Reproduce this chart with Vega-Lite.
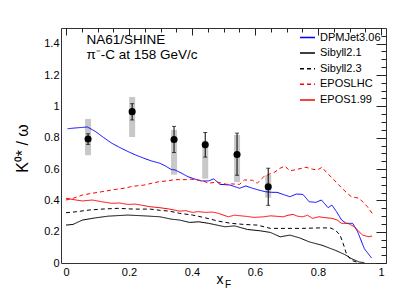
{
  "$schema": "https://vega.github.io/schema/vega-lite/v6.json",
  "width": 325,
  "height": 235,
  "autosize": {"type": "none"},
  "padding": {"left": 61, "top": 28, "right": 21, "bottom": 29},
  "background": "white",
  "config": {
    "font": "Liberation Sans",
    "view": {"stroke": "#333", "strokeWidth": 1},
    "axis": {"grid": false, "domain": false}
  },
  "datasets": {
    "curves": [
      {"model": "DPMJet3.06", "xf": 0.005, "r": 0.857},
      {"model": "DPMJet3.06", "xf": 0.03, "r": 0.862},
      {"model": "DPMJet3.06", "xf": 0.068, "r": 0.868},
      {"model": "DPMJet3.06", "xf": 0.093, "r": 0.84},
      {"model": "DPMJet3.06", "xf": 0.12, "r": 0.8},
      {"model": "DPMJet3.06", "xf": 0.145, "r": 0.765},
      {"model": "DPMJet3.06", "xf": 0.17, "r": 0.738},
      {"model": "DPMJet3.06", "xf": 0.196, "r": 0.712},
      {"model": "DPMJet3.06", "xf": 0.22, "r": 0.69},
      {"model": "DPMJet3.06", "xf": 0.247, "r": 0.669},
      {"model": "DPMJet3.06", "xf": 0.27, "r": 0.652},
      {"model": "DPMJet3.06", "xf": 0.298, "r": 0.637},
      {"model": "DPMJet3.06", "xf": 0.315, "r": 0.62},
      {"model": "DPMJet3.06", "xf": 0.334, "r": 0.597},
      {"model": "DPMJet3.06", "xf": 0.346, "r": 0.594},
      {"model": "DPMJet3.06", "xf": 0.365, "r": 0.575},
      {"model": "DPMJet3.06", "xf": 0.387, "r": 0.551},
      {"model": "DPMJet3.06", "xf": 0.41, "r": 0.535},
      {"model": "DPMJet3.06", "xf": 0.428, "r": 0.524},
      {"model": "DPMJet3.06", "xf": 0.453, "r": 0.524},
      {"model": "DPMJet3.06", "xf": 0.469, "r": 0.537},
      {"model": "DPMJet3.06", "xf": 0.489, "r": 0.502},
      {"model": "DPMJet3.06", "xf": 0.52, "r": 0.498},
      {"model": "DPMJet3.06", "xf": 0.551, "r": 0.477},
      {"model": "DPMJet3.06", "xf": 0.571, "r": 0.492},
      {"model": "DPMJet3.06", "xf": 0.592, "r": 0.477},
      {"model": "DPMJet3.06", "xf": 0.613, "r": 0.465},
      {"model": "DPMJet3.06", "xf": 0.633, "r": 0.455},
      {"model": "DPMJet3.06", "xf": 0.653, "r": 0.451},
      {"model": "DPMJet3.06", "xf": 0.67, "r": 0.451},
      {"model": "DPMJet3.06", "xf": 0.69, "r": 0.437},
      {"model": "DPMJet3.06", "xf": 0.711, "r": 0.423},
      {"model": "DPMJet3.06", "xf": 0.731, "r": 0.44},
      {"model": "DPMJet3.06", "xf": 0.752, "r": 0.438},
      {"model": "DPMJet3.06", "xf": 0.772, "r": 0.391},
      {"model": "DPMJet3.06", "xf": 0.793, "r": 0.387},
      {"model": "DPMJet3.06", "xf": 0.811, "r": 0.402},
      {"model": "DPMJet3.06", "xf": 0.832, "r": 0.353},
      {"model": "DPMJet3.06", "xf": 0.844, "r": 0.37},
      {"model": "DPMJet3.06", "xf": 0.859, "r": 0.327},
      {"model": "DPMJet3.06", "xf": 0.875, "r": 0.274},
      {"model": "DPMJet3.06", "xf": 0.89, "r": 0.253},
      {"model": "DPMJet3.06", "xf": 0.91, "r": 0.253},
      {"model": "DPMJet3.06", "xf": 0.926, "r": 0.199},
      {"model": "DPMJet3.06", "xf": 0.947, "r": 0.092},
      {"model": "DPMJet3.06", "xf": 0.97, "r": 0.032},

      {"model": "Sibyll2.1", "xf": 0.0, "r": 0.242},
      {"model": "Sibyll2.1", "xf": 0.022, "r": 0.246},
      {"model": "Sibyll2.1", "xf": 0.052, "r": 0.274},
      {"model": "Sibyll2.1", "xf": 0.093, "r": 0.288},
      {"model": "Sibyll2.1", "xf": 0.134, "r": 0.299},
      {"model": "Sibyll2.1", "xf": 0.196, "r": 0.306},
      {"model": "Sibyll2.1", "xf": 0.247, "r": 0.301},
      {"model": "Sibyll2.1", "xf": 0.298, "r": 0.295},
      {"model": "Sibyll2.1", "xf": 0.334, "r": 0.28},
      {"model": "Sibyll2.1", "xf": 0.361, "r": 0.274},
      {"model": "Sibyll2.1", "xf": 0.392, "r": 0.259},
      {"model": "Sibyll2.1", "xf": 0.422, "r": 0.263},
      {"model": "Sibyll2.1", "xf": 0.453, "r": 0.253},
      {"model": "Sibyll2.1", "xf": 0.505, "r": 0.231},
      {"model": "Sibyll2.1", "xf": 0.535, "r": 0.237},
      {"model": "Sibyll2.1", "xf": 0.576, "r": 0.214},
      {"model": "Sibyll2.1", "xf": 0.618, "r": 0.205},
      {"model": "Sibyll2.1", "xf": 0.649, "r": 0.195},
      {"model": "Sibyll2.1", "xf": 0.68, "r": 0.167},
      {"model": "Sibyll2.1", "xf": 0.711, "r": 0.178},
      {"model": "Sibyll2.1", "xf": 0.742, "r": 0.16},
      {"model": "Sibyll2.1", "xf": 0.772, "r": 0.135},
      {"model": "Sibyll2.1", "xf": 0.813, "r": 0.113},
      {"model": "Sibyll2.1", "xf": 0.855, "r": 0.081},
      {"model": "Sibyll2.1", "xf": 0.885, "r": 0.054},
      {"model": "Sibyll2.1", "xf": 0.906, "r": 0.028},
      {"model": "Sibyll2.1", "xf": 0.931, "r": 0.006},
      {"model": "Sibyll2.1", "xf": 0.947, "r": 0.003},

      {"model": "Sibyll2.3", "xf": 0.0, "r": 0.321},
      {"model": "Sibyll2.3", "xf": 0.032, "r": 0.327},
      {"model": "Sibyll2.3", "xf": 0.073, "r": 0.338},
      {"model": "Sibyll2.3", "xf": 0.114, "r": 0.344},
      {"model": "Sibyll2.3", "xf": 0.165, "r": 0.349},
      {"model": "Sibyll2.3", "xf": 0.216, "r": 0.344},
      {"model": "Sibyll2.3", "xf": 0.268, "r": 0.344},
      {"model": "Sibyll2.3", "xf": 0.3, "r": 0.336},
      {"model": "Sibyll2.3", "xf": 0.329, "r": 0.331},
      {"model": "Sibyll2.3", "xf": 0.361, "r": 0.317},
      {"model": "Sibyll2.3", "xf": 0.402, "r": 0.306},
      {"model": "Sibyll2.3", "xf": 0.443, "r": 0.288},
      {"model": "Sibyll2.3", "xf": 0.484, "r": 0.267},
      {"model": "Sibyll2.3", "xf": 0.525, "r": 0.253},
      {"model": "Sibyll2.3", "xf": 0.566, "r": 0.246},
      {"model": "Sibyll2.3", "xf": 0.607, "r": 0.242},
      {"model": "Sibyll2.3", "xf": 0.649, "r": 0.221},
      {"model": "Sibyll2.3", "xf": 0.701, "r": 0.221},
      {"model": "Sibyll2.3", "xf": 0.752, "r": 0.221},
      {"model": "Sibyll2.3", "xf": 0.803, "r": 0.224},
      {"model": "Sibyll2.3", "xf": 0.839, "r": 0.224},
      {"model": "Sibyll2.3", "xf": 0.855, "r": 0.21},
      {"model": "Sibyll2.3", "xf": 0.87, "r": 0.178},
      {"model": "Sibyll2.3", "xf": 0.88, "r": 0.124},
      {"model": "Sibyll2.3", "xf": 0.89, "r": 0.06},
      {"model": "Sibyll2.3", "xf": 0.906, "r": 0.017},
      {"model": "Sibyll2.3", "xf": 0.926, "r": 0.004},

      {"model": "EPOSLHC", "xf": 0.0, "r": 0.402},
      {"model": "EPOSLHC", "xf": 0.026, "r": 0.415},
      {"model": "EPOSLHC", "xf": 0.052, "r": 0.434},
      {"model": "EPOSLHC", "xf": 0.083, "r": 0.445},
      {"model": "EPOSLHC", "xf": 0.114, "r": 0.455},
      {"model": "EPOSLHC", "xf": 0.14, "r": 0.464},
      {"model": "EPOSLHC", "xf": 0.165, "r": 0.472},
      {"model": "EPOSLHC", "xf": 0.186, "r": 0.478},
      {"model": "EPOSLHC", "xf": 0.206, "r": 0.487},
      {"model": "EPOSLHC", "xf": 0.226, "r": 0.493},
      {"model": "EPOSLHC", "xf": 0.247, "r": 0.497},
      {"model": "EPOSLHC", "xf": 0.27, "r": 0.508},
      {"model": "EPOSLHC", "xf": 0.295, "r": 0.519},
      {"model": "EPOSLHC", "xf": 0.32, "r": 0.524},
      {"model": "EPOSLHC", "xf": 0.346, "r": 0.532},
      {"model": "EPOSLHC", "xf": 0.382, "r": 0.532},
      {"model": "EPOSLHC", "xf": 0.397, "r": 0.535},
      {"model": "EPOSLHC", "xf": 0.433, "r": 0.526},
      {"model": "EPOSLHC", "xf": 0.453, "r": 0.509},
      {"model": "EPOSLHC", "xf": 0.479, "r": 0.517},
      {"model": "EPOSLHC", "xf": 0.51, "r": 0.502},
      {"model": "EPOSLHC", "xf": 0.525, "r": 0.505},
      {"model": "EPOSLHC", "xf": 0.551, "r": 0.502},
      {"model": "EPOSLHC", "xf": 0.566, "r": 0.53},
      {"model": "EPOSLHC", "xf": 0.592, "r": 0.528},
      {"model": "EPOSLHC", "xf": 0.607, "r": 0.509},
      {"model": "EPOSLHC", "xf": 0.628, "r": 0.551},
      {"model": "EPOSLHC", "xf": 0.645, "r": 0.567},
      {"model": "EPOSLHC", "xf": 0.66, "r": 0.577},
      {"model": "EPOSLHC", "xf": 0.68, "r": 0.605},
      {"model": "EPOSLHC", "xf": 0.695, "r": 0.618},
      {"model": "EPOSLHC", "xf": 0.711, "r": 0.588},
      {"model": "EPOSLHC", "xf": 0.736, "r": 0.599},
      {"model": "EPOSLHC", "xf": 0.762, "r": 0.611},
      {"model": "EPOSLHC", "xf": 0.782, "r": 0.599},
      {"model": "EPOSLHC", "xf": 0.798, "r": 0.594},
      {"model": "EPOSLHC", "xf": 0.813, "r": 0.611},
      {"model": "EPOSLHC", "xf": 0.829, "r": 0.573},
      {"model": "EPOSLHC", "xf": 0.844, "r": 0.545},
      {"model": "EPOSLHC", "xf": 0.859, "r": 0.513},
      {"model": "EPOSLHC", "xf": 0.875, "r": 0.48},
      {"model": "EPOSLHC", "xf": 0.89, "r": 0.45},
      {"model": "EPOSLHC", "xf": 0.906, "r": 0.423},
      {"model": "EPOSLHC", "xf": 0.931, "r": 0.413},
      {"model": "EPOSLHC", "xf": 0.957, "r": 0.359},
      {"model": "EPOSLHC", "xf": 0.972, "r": 0.317},

      {"model": "EPOS1.99", "xf": 0.0, "r": 0.413},
      {"model": "EPOS1.99", "xf": 0.032, "r": 0.402},
      {"model": "EPOS1.99", "xf": 0.052, "r": 0.396},
      {"model": "EPOS1.99", "xf": 0.083, "r": 0.402},
      {"model": "EPOS1.99", "xf": 0.114, "r": 0.391},
      {"model": "EPOS1.99", "xf": 0.145, "r": 0.381},
      {"model": "EPOS1.99", "xf": 0.17, "r": 0.383},
      {"model": "EPOS1.99", "xf": 0.196, "r": 0.374},
      {"model": "EPOS1.99", "xf": 0.22, "r": 0.376},
      {"model": "EPOS1.99", "xf": 0.237, "r": 0.37},
      {"model": "EPOS1.99", "xf": 0.268, "r": 0.359},
      {"model": "EPOS1.99", "xf": 0.298, "r": 0.353},
      {"model": "EPOS1.99", "xf": 0.329, "r": 0.344},
      {"model": "EPOS1.99", "xf": 0.361, "r": 0.331},
      {"model": "EPOS1.99", "xf": 0.38, "r": 0.334},
      {"model": "EPOS1.99", "xf": 0.402, "r": 0.323},
      {"model": "EPOS1.99", "xf": 0.42, "r": 0.328},
      {"model": "EPOS1.99", "xf": 0.443, "r": 0.323},
      {"model": "EPOS1.99", "xf": 0.465, "r": 0.325},
      {"model": "EPOS1.99", "xf": 0.484, "r": 0.317},
      {"model": "EPOS1.99", "xf": 0.515, "r": 0.295},
      {"model": "EPOS1.99", "xf": 0.535, "r": 0.305},
      {"model": "EPOS1.99", "xf": 0.556, "r": 0.301},
      {"model": "EPOS1.99", "xf": 0.575, "r": 0.297},
      {"model": "EPOS1.99", "xf": 0.597, "r": 0.291},
      {"model": "EPOS1.99", "xf": 0.628, "r": 0.295},
      {"model": "EPOS1.99", "xf": 0.649, "r": 0.301},
      {"model": "EPOS1.99", "xf": 0.67, "r": 0.298},
      {"model": "EPOS1.99", "xf": 0.69, "r": 0.295},
      {"model": "EPOS1.99", "xf": 0.705, "r": 0.305},
      {"model": "EPOS1.99", "xf": 0.721, "r": 0.31},
      {"model": "EPOS1.99", "xf": 0.736, "r": 0.298},
      {"model": "EPOS1.99", "xf": 0.752, "r": 0.295},
      {"model": "EPOS1.99", "xf": 0.767, "r": 0.305},
      {"model": "EPOS1.99", "xf": 0.782, "r": 0.285},
      {"model": "EPOS1.99", "xf": 0.803, "r": 0.295},
      {"model": "EPOS1.99", "xf": 0.82, "r": 0.29},
      {"model": "EPOS1.99", "xf": 0.844, "r": 0.285},
      {"model": "EPOS1.99", "xf": 0.86, "r": 0.275},
      {"model": "EPOS1.99", "xf": 0.875, "r": 0.253},
      {"model": "EPOS1.99", "xf": 0.895, "r": 0.253},
      {"model": "EPOS1.99", "xf": 0.916, "r": 0.231},
      {"model": "EPOS1.99", "xf": 0.93, "r": 0.2},
      {"model": "EPOS1.99", "xf": 0.942, "r": 0.178},
      {"model": "EPOS1.99", "xf": 0.962, "r": 0.167},
      {"model": "EPOS1.99", "xf": 0.972, "r": 0.173}
    ],
    "points": [
      {"xf": 0.070, "r": 0.791, "lo": 0.757, "hi": 0.825, "slo": 0.688, "shi": 0.919},
      {"xf": 0.210, "r": 0.966, "lo": 0.913, "hi": 1.017, "slo": 0.804, "shi": 1.060},
      {"xf": 0.343, "r": 0.788, "lo": 0.705, "hi": 0.872, "slo": 0.564, "shi": 0.849},
      {"xf": 0.442, "r": 0.754, "lo": 0.676, "hi": 0.833, "slo": 0.538, "shi": 0.780},
      {"xf": 0.543, "r": 0.692, "lo": 0.560, "hi": 0.829, "slo": 0.517, "shi": 0.817},
      {"xf": 0.642, "r": 0.487, "lo": 0.368, "hi": 0.605, "slo": 0.417, "shi": 0.562}
    ]
  },
  "resolve": {"axis": {"x": "independent", "y": "independent"}},
  "layer": [
    {
      "data": {"name": "points"},
      "mark": {"type": "bar", "size": 6, "color": "#c8c8c8"},
      "encoding": {
        "x": {"field": "xf", "type": "quantitative",
              "scale": {"domain": [0, 1], "nice": false, "zero": false},
              "axis": {"values": [0, 0.2, 0.4, 0.6, 0.8, 1], "labelExpr": "datum.value", "ticks": false,
                       "labelPadding": 3, "labelFontSize": 11, "labelColor": "#000", "labelFlush": false,
                       "title": "x", "titleFontSize": 14, "titleFontWeight": "normal", "titleColor": "#000",
                       "titleAnchor": "start", "titleAlign": "left", "titleBaseline": "alphabetic",
                       "titleX": 155, "titleY": 20}},
        "y": {"field": "slo", "type": "quantitative",
              "scale": {"domain": [0, 1.5], "nice": false, "zero": false},
              "axis": {"values": [0, 0.2, 0.4, 0.6, 0.8, 1, 1.2, 1.4], "labelExpr": "datum.value", "ticks": false,
                       "labelPadding": 2, "labelFontSize": 11, "labelColor": "#000", "labelFlush": false,
                       "title": "K⁰* / ω", "titleFontSize": 16, "titleFontWeight": "normal", "titleColor": "#000",
                       "titleAngle": 270, "titleAlign": "center", "titleBaseline": "alphabetic",
                       "titleX": -34, "titleY": 120}},
        "y2": {"field": "shi"}
      }
    },
    {
      "data": {"name": "curves"},
      "mark": {"type": "line", "strokeWidth": 1, "clip": true},
      "encoding": {
        "x": {"field": "xf", "type": "quantitative",
              "axis": {"values": [0, 0.2, 0.4, 0.6, 0.8, 1], "labels": false, "title": null,
                       "tickSize": -7, "tickColor": "#222", "tickWidth": 1}},
        "y": {"field": "r", "type": "quantitative",
              "axis": {"values": [0, 0.2, 0.4, 0.6, 0.8, 1, 1.2, 1.4], "labels": false, "title": null,
                       "tickSize": -10, "tickColor": "#222", "tickWidth": 1}},
        "color": {"field": "model", "type": "nominal",
                  "scale": {"domain": ["DPMJet3.06", "Sibyll2.1", "Sibyll2.3", "EPOSLHC", "EPOS1.99"],
                            "range": ["#0000ff", "#000000", "#000000", "#ff0000", "#ff0000"]},
                  "legend": {"title": null, "orient": "none", "legendX": 238, "legendY": 1,
                             "symbolType": "stroke", "symbolSize": 225, "symbolStrokeWidth": 1.5,
                             "labelFontSize": 11, "labelColor": "#000", "labelOffset": 4, "rowPadding": 1.6,
                             "padding": 0}},
        "strokeDash": {"field": "model", "type": "nominal",
                       "scale": {"domain": ["DPMJet3.06", "Sibyll2.1", "Sibyll2.3", "EPOSLHC", "EPOS1.99"],
                                 "range": [[1, 0], [1, 0], [4, 3], [4, 3], [1, 0]]},
                       "legend": {"title": null, "orient": "none", "legendX": 238, "legendY": 1,
                                  "symbolType": "stroke", "symbolSize": 225, "symbolStrokeWidth": 1.5,
                                  "labelFontSize": 11, "labelColor": "#000", "labelOffset": 4, "rowPadding": 1.6,
                                  "padding": 0}}
      }
    },
    {
      "data": {"name": "points"},
      "mark": {"type": "rule", "color": "#000", "strokeWidth": 1},
      "encoding": {
        "x": {"field": "xf", "type": "quantitative",
              "axis": {"values": [0.05, 0.1, 0.15, 0.25, 0.3, 0.35, 0.45, 0.5, 0.55, 0.65, 0.7, 0.75, 0.85, 0.9, 0.95],
                       "labels": false, "title": null, "tickSize": -4, "tickColor": "#222", "tickWidth": 1}},
        "y": {"field": "lo", "type": "quantitative",
              "axis": {"values": [0.05, 0.1, 0.15, 0.25, 0.3, 0.35, 0.45, 0.5, 0.55, 0.65, 0.7, 0.75, 0.85, 0.9, 0.95, 1.05, 1.1, 1.15, 1.25, 1.3, 1.35, 1.45],
                       "labels": false, "title": null, "tickSize": -5, "tickColor": "#222", "tickWidth": 1}},
        "y2": {"field": "hi"}
      }
    },
    {
      "data": {"name": "points"},
      "mark": {"type": "tick", "orient": "horizontal", "color": "#000", "size": 4, "thickness": 1},
      "encoding": {
        "x": {"field": "xf", "type": "quantitative", "axis": null},
        "y": {"field": "lo", "type": "quantitative", "axis": null}
      }
    },
    {
      "data": {"name": "points"},
      "mark": {"type": "tick", "orient": "horizontal", "color": "#000", "size": 4, "thickness": 1},
      "encoding": {
        "x": {"field": "xf", "type": "quantitative", "axis": null},
        "y": {"field": "hi", "type": "quantitative", "axis": null}
      }
    },
    {
      "data": {"name": "points"},
      "mark": {"type": "circle", "color": "#000", "size": 50, "opacity": 1},
      "encoding": {
        "x": {"field": "xf", "type": "quantitative", "axis": null},
        "y": {"field": "r", "type": "quantitative", "axis": null}
      }
    },
    {
      "data": {"values": [{}]},
      "mark": {"type": "text", "fontSize": 13.5, "align": "left", "baseline": "alphabetic", "color": "#000"},
      "encoding": {
        "x": {"datum": 0.065, "type": "quantitative", "axis": null},
        "y": {"datum": 1.395, "type": "quantitative", "axis": null},
        "text": {"value": "NA61/SHINE"}
      }
    },
    {
      "data": {"values": [{}]},
      "mark": {"type": "text", "fontSize": 13.5, "align": "left", "baseline": "alphabetic", "color": "#000"},
      "encoding": {
        "x": {"datum": 0.065, "type": "quantitative", "axis": null},
        "y": {"datum": 1.302, "type": "quantitative", "axis": null},
        "text": {"value": "π⁻-C at 158 GeV/c"}
      }
    },
    {
      "data": {"values": [{}]},
      "mark": {"type": "text", "fontSize": 10, "align": "left", "baseline": "alphabetic", "color": "#000"},
      "encoding": {
        "x": {"datum": 0.505, "type": "quantitative", "axis": null},
        "y": {"datum": -0.158, "type": "quantitative", "axis": null},
        "text": {"value": "F"}
      }
    }
  ]
}
